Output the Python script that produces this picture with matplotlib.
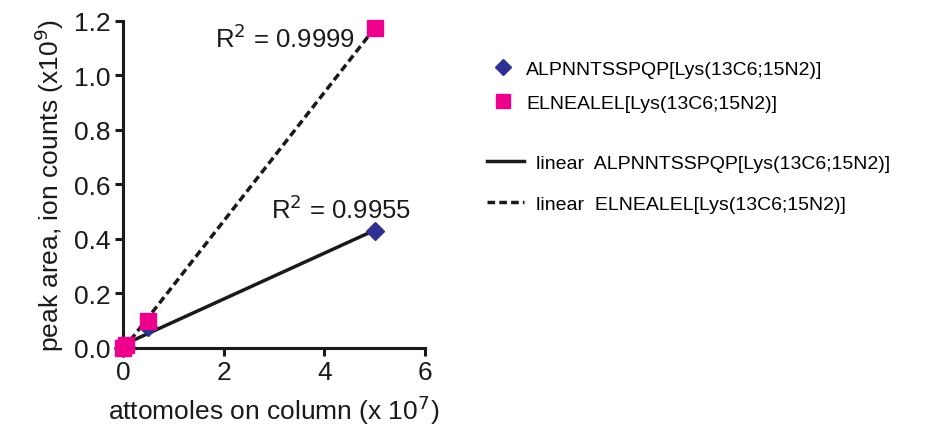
import numpy as np
import matplotlib
matplotlib.use('Agg')
import matplotlib.pyplot as plt
from matplotlib.lines import Line2D

plt.rcParams['font.family'] = ['Liberation Sans', 'DejaVu Sans']

# data (attomoles x1e7, peak area x1e9)
amount = [0, 0.05, 0.5, 5]
alpn = [0.0, 0.005, 0.077, 0.43]
elne = [0.0, 0.01, 0.10, 1.175]
name_alpn = 'ALPNNTSSPQP[Lys(13C6;15N2)]'
name_elne = 'ELNEALEL[Lys(13C6;15N2)]'
r2_alpn = '0.9955'
r2_elne = '0.9999'

navy = '#2e3192'
magenta = '#ec008c'
ink = '#1a1a1a'

fig = plt.figure(figsize=(9.27, 4.27), dpi=100)
ax = fig.add_axes([0.1327, 0.1827, 0.3258, 0.7658])

# fit lines
xfit = np.array([0, amount[-1]])
p1 = np.polyfit(amount, alpn, 1)
p2 = np.polyfit(amount, elne, 1)
ax.plot(xfit, np.polyval(p1, xfit), color=ink, lw=2.5, zorder=2)
ax.plot(xfit, np.polyval(p2, xfit), color=ink, lw=2.5, ls=(0, (2.2, 1.2)), zorder=2)

ax.plot(amount, alpn, 'D', color=navy, ms=9, ls='none', clip_on=False, zorder=3)
ax.plot(amount, elne, 's', color=magenta, ms=11, ls='none', clip_on=False, zorder=4)

ax.text(4.6, 1.14, 'R$^2$ = ' + r2_elne, fontsize=18.5, ha='right', va='center', color=ink)
ax.text(4.33, 0.51, 'R$^2$ = ' + r2_alpn, fontsize=18.5, ha='center', va='center', color=ink)

ax.set_xlim(0, 6)
ax.set_ylim(0, 1.2)
ax.set_xticks([0, 2, 4, 6])
ax.set_yticks(np.arange(0, 1.21, 0.2))
ax.yaxis.set_major_formatter(matplotlib.ticker.FormatStrFormatter('%.1f'))
for s in ['top', 'right']:
    ax.spines[s].set_visible(False)
for s in ['left', 'bottom']:
    ax.spines[s].set_linewidth(2.2)
    ax.spines[s].set_color(ink)
ax.tick_params(width=2.2, length=6, labelsize=19, colors=ink, pad=3)
ax.set_xlabel('attomoles on column (x 10$^7$)', fontsize=19, color=ink, labelpad=6)
ax.set_ylabel('peak area, ion counts (x10$^9$)', fontsize=19, color=ink, labelpad=6)

h1 = [Line2D([], [], marker='D', color=navy, ls='none', ms=8),
      Line2D([], [], marker='s', color=magenta, ls='none', ms=10)]
fig.legend(h1, [name_alpn, name_elne], loc='upper left', bbox_to_anchor=(0.51, 0.897),
           frameon=False, fontsize=14, handlelength=1.3, labelspacing=0.85, handletextpad=0.55)
h2 = [Line2D([], [], color=ink, lw=2.5),
      Line2D([], [], color=ink, lw=2.5, ls=(0, (2.2, 1.2)))]
fig.legend(h2, ['linear  ' + name_alpn, 'linear  ' + name_elne], loc='upper left',
           bbox_to_anchor=(0.507, 0.677), frameon=False, fontsize=14, handlelength=1.9,
           labelspacing=1.2, handletextpad=0.6)

fig.savefig('out.png', dpi=100)
